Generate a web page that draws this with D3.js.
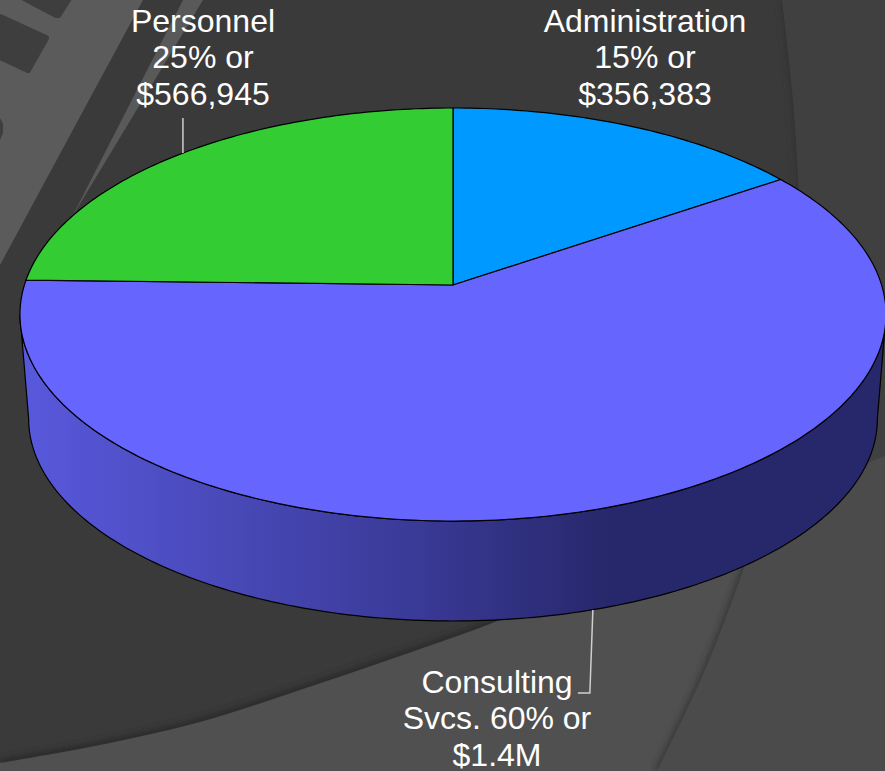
<!DOCTYPE html>
<html>
<head>
<meta charset="utf-8">
<script src="https://cdnjs.cloudflare.com/ajax/libs/d3/7.8.5/d3.min.js"></script>
<style>
  html, body { margin: 0; padding: 0; background: #3a3a3a; overflow: hidden; }
  text { font-family: "Liberation Sans", Arial, sans-serif; font-size: 32px; fill: #fff; text-anchor: middle; }
</style>
</head>
<body>
<div class="visualization"></div>
<script>
// Chart values, as labelled on the slices ($1.4M is rounded on the slide)
var categories = ['Administration', 'Consulting Svcs.', 'Personnel'];
var amounts = [356383, 1380000, 566945];
var colors = ['#0099ff', '#6666ff', '#33cc33'];
var labels = [
  ['Administration', '15% or', '$356,383'],
  ['Consulting', 'Svcs. 60% or', '$1.4M'],
  ['Personnel', '25% or', '$566,945']
];

var width = 885, height = 771;

// Perspective of the tilted disc: near side is drawn bigger than the far side
var tilt = -0.1429;

// d3 scales from the projected disc plane to the screen, top face and base
var xTop = d3.scaleLinear().domain([-1, 1]).range([453 - 428.6, 453 + 428.6]);
var yTop = d3.scaleLinear().domain([-1, 1]).range([285 - 202.3, 285 + 202.3]);
var xBase = d3.scaleLinear().domain([-1, 1]).range([453 - 420, 453 + 420]);
var yBase = d3.scaleLinear().domain([-1, 1]).range([390 - 198, 390 + 198]);

function project(angle, xs, ys) {
  var u = Math.sin(angle), v = -Math.cos(angle), w = 1 + tilt * v;
  return [xs(u / w), ys(v / w)];
}

function arcPoints(a0, a1, xs, ys) {
  var n = Math.max(2, Math.ceil(Math.abs(a1 - a0) * 60));
  return d3.range(n + 1).map(function(i) {
    return project(a0 + (a1 - a0) * i / n, xs, ys);
  });
}

var svg = d3.select('.visualization')
  .append('svg')
  .attr('width', width)
  .attr('height', height)
  .style('display', 'block');

var defs = svg.append('defs');
defs.append('filter').attr('id', 'blur').attr('x', '-20%').attr('y', '-20%').attr('width', '140%').attr('height', '140%')
  .append('feGaussianBlur').attr('stdDeviation', 3);

var rimGradient = defs.append('linearGradient').attr('id', 'rim')
  .attr('gradientUnits', 'userSpaceOnUse')
  .attr('x1', 28).attr('x2', 885).attr('y1', 0).attr('y2', 0);
[[0, '#5858dc'], [0.2, '#4b4bbd'], [0.45, '#3a3a98'], [0.68, '#27276b'], [1, '#27276b']].forEach(function(s) {
  rimGradient.append('stop').attr('offset', s[0]).attr('stop-color', s[1]);
});

// ---- Slide background (theme artwork behind the chart) ----
var smooth = d3.line().curve(d3.curveCatmullRom);
var sharp = d3.line();
var bg = svg.append('g');

var crescentEdge = [[0, 763], [100, 745], [200, 722], [300, 690], [400, 656], [500, 620], [700, 534], [867, 463], [885, 456]];
var orbitEdge = [[782, 0], [792, 90], [798, 180], [800, 300], [785, 440], [746, 562], [705, 670], [657, 771]];

function crescentPath() {
  return smooth(crescentEdge) + 'L885,771L0,771Z';
}
function orbitPath() {
  return smooth(orbitEdge) + 'L885,771L885,0Z';
}

defs.append('clipPath').attr('id', 'orbitClip').append('path').attr('d', orbitPath());

bg.append('rect').attr('width', width).attr('height', height).attr('fill', '#3a3a3a');

// top left band with its dark rounded windows
bg.append('path').attr('d', sharp([[0, 0], [143, 0], [0, 265]]) + 'Z').attr('fill', '#5b5b5b');
bg.append('path').attr('fill', '#3e3e3e').attr('stroke', '#3e3e3e').attr('stroke-width', 6).attr('stroke-linejoin', 'round')
  .attr('d', sharp([[0, 17], [46, 38], [28, 70], [0, 57]]) + 'Z');
bg.append('path').attr('fill', '#3e3e3e').attr('stroke', '#3e3e3e').attr('stroke-width', 4).attr('stroke-linejoin', 'round')
  .attr('d', sharp([[20, -3], [71, -3], [59, 16], [56, 16]]) + 'Z');
bg.append('path').attr('fill', '#3e3e3e')
  .attr('d', sharp([[0, 118], [3, 124], [3, 133], [0, 140]]) + 'Z');
bg.append('path').attr('fill', '#595959')
  .attr('d', sharp([[183, 0], [203, 0], [72, 217]]) + 'Z');

// soft shadows along the big orbit edges
bg.append('path').attr('d', smooth(crescentEdge)).attr('fill', 'none')
  .attr('stroke', '#2a2a2a').attr('stroke-width', 8).attr('filter', 'url(#blur)');
bg.append('path').attr('d', crescentPath()).attr('fill', '#505050');
bg.append('path').attr('d', smooth(orbitEdge)).attr('fill', 'none')
  .attr('stroke', '#333333').attr('stroke-width', 5).attr('filter', 'url(#blur)');
bg.append('path').attr('d', orbitPath()).attr('fill', '#404040');
bg.append('path').attr('d', crescentPath()).attr('fill', '#4b4b4b').attr('clip-path', 'url(#orbitClip)');

// ---- Pie ----
var slices = d3.pie().sort(null)(amounts);

// angle where the disc outline reaches its widest point, right and left
var sideAngle = Math.acos(tilt);
var rimPoints = arcPoints(sideAngle, 2 * Math.PI - sideAngle, xTop, yTop)
  .concat(arcPoints(2 * Math.PI - sideAngle, sideAngle, xBase, yBase));

var chart = svg.append('g');

chart.append('path')
  .attr('d', sharp(rimPoints) + 'Z')
  .attr('fill', 'url(#rim)')
  .attr('stroke', '#000')
  .attr('stroke-width', 1.2);

var center = [xTop(0), yTop(0)];
chart.selectAll('path.slice')
  .data(slices)
  .enter().append('path')
  .attr('class', 'slice')
  .attr('d', function(d) {
    return sharp([center].concat(arcPoints(d.startAngle, d.endAngle, xTop, yTop))) + 'Z';
  })
  .attr('fill', function(d, i) { return colors[i]; })
  .attr('stroke', '#000')
  .attr('stroke-width', 1.2)
  .attr('stroke-linejoin', 'round');

// ---- Leader lines, they start from the middle of their slice ----
function midAngle(d) { return (d.startAngle + d.endAngle) / 2; }

var personnelEdge = project(midAngle(slices[2]) + 0.005, xTop, yTop);
var consultingEdge = project(midAngle(slices[1]), xBase, yBase);
consultingEdge[0] += 2;

var leaders = [
  [[personnelEdge[0], 118], personnelEdge],
  [consultingEdge, [consultingEdge[0] - 3, 693], [consultingEdge[0] - 15, 693]]
];

chart.selectAll('path.leader')
  .data(leaders)
  .enter().append('path')
  .attr('class', 'leader')
  .attr('d', function(d) { return sharp(d); })
  .attr('fill', 'none')
  .attr('stroke', '#cfcfcf')
  .attr('stroke-width', 1.5);

// ---- Labels ----
var labelAnchors = [[645, 32], [497, 693], [203, 32]];
var lineGap = 36.4;

chart.selectAll('text.label')
  .data(labels)
  .enter().append('text')
  .attr('class', 'label')
  .attr('transform', function(d, i) { return 'translate(' + labelAnchors[i] + ')'; })
  .selectAll('tspan')
  .data(function(d) { return d; })
  .enter().append('tspan')
  .attr('x', 0)
  .attr('y', function(d, i) { return i * lineGap; })
  .text(function(d) { return d; });
</script>
</body>
</html>
